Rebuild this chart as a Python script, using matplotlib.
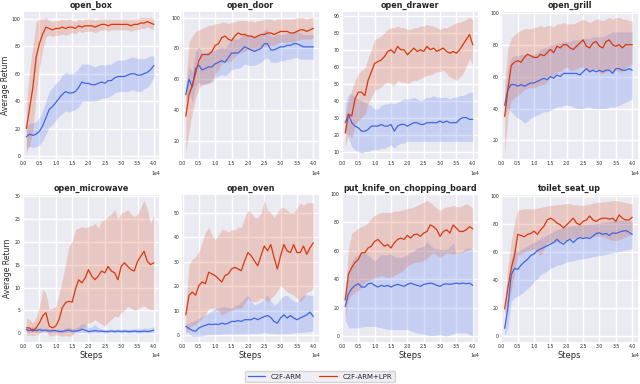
import numpy as np
import matplotlib
matplotlib.use("Agg")
import matplotlib.pyplot as plt
import seaborn as sns

sns.set_theme(style="darkgrid")
plt.rcParams['font.family'] = ['DejaVu Sans']

steps = [0.1, 0.2, 0.3, 0.4, 0.5, 0.6, 0.7, 0.8, 0.9, 1.0,
         1.1, 1.2, 1.3, 1.4, 1.5, 1.6, 1.7, 1.8, 1.9, 2.0,
         2.1, 2.2, 2.3, 2.4, 2.5, 2.6, 2.7, 2.8, 2.9, 3.0,
         3.1, 3.2, 3.3, 3.4, 3.5, 3.6, 3.7, 3.8, 3.9, 4.0]

tasks = ["open_box", "open_door", "open_drawer", "open_grill",
         "open_microwave", "open_oven", "put_knife_on_chopping_board", "toilet_seat_up"]
methods = ["C2F-ARM", "C2F-ARM+LPR"]

# ---- open_box ----
box_lpr_mean = [20,35,50,72,82,89,94,93,92,93, 93,94,93,94,94,93,95,94,95,95, 95,94,95,96,96,95,96,96,96,96, 96,96,95,96,96,97,97,98,97,96]
box_lpr_lo = [2,8,18,45,64,78,87,88,87,88, 88,89,88,89,90,89,91,90,91,91, 91,90,91,92,92,91,92,92,92,92, 92,92,91,92,92,93,93,94,93,92]
box_lpr_hi = [38,62,80,98,100,100,101,99,98,99, 99,100,99,100,99,98,100,99,100,100, 100,99,100,100,100,100,100,100,100,100, 100,100,100,100,100,101,101,101,101,100]
box_arm_mean = [14,16,15,16,18,22,28,34,36,39, 42,45,47,46,46,47,50,54,53,53, 52,52,53,54,53,55,55,57,58,58, 58,59,60,60,59,59,60,61,63,66]
box_arm_lo = [6,7,6,7,8,11,16,21,23,26, 29,31,33,32,33,34,36,40,40,40, 40,40,41,42,42,43,44,46,47,47, 47,47,48,48,47,47,49,50,53,58]
box_arm_hi = [22,24,24,25,28,33,40,47,50,53, 55,59,61,60,60,61,64,67,67,67, 66,65,66,67,66,67,67,69,70,70, 70,71,72,72,71,71,71,72,73,73]

# ---- open_door ----
door_lpr_mean = [36,50,56,64,72,76,76,76,78,82, 83,87,88,86,85,88,90,89,89,88, 88,87,88,89,89,90,90,89,90,91, 91,91,90,90,91,92,92,91,92,93]
door_lpr_lo = [12,27,38,48,54,57,57,57,59,64, 66,70,72,71,72,75,77,77,78,79, 79,79,80,81,81,82,82,82,83,84, 84,84,84,84,85,86,86,86,86,87]
door_lpr_hi = [58,84,88,91,92,93,94,95,95,96, 96,97,97,96,97,97,98,98,98,98, 98,97,98,98,99,99,99,98,99,99, 99,99,99,99,100,100,100,99,100,100]
door_arm_mean = [50,60,55,67,69,66,67,68,68,70, 71,72,71,74,77,77,77,79,81,80, 79,78,79,80,83,83,79,79,80,81, 81,82,82,83,83,82,81,81,81,81]
door_arm_lo = [46,52,45,55,58,56,57,58,58,61, 62,63,62,64,66,67,67,68,70,69, 69,69,70,71,73,74,71,71,71,72, 72,73,73,74,74,73,73,73,73,73]
door_arm_hi = [55,68,65,78,81,77,77,78,78,79, 80,81,80,83,86,86,86,88,90,89, 88,87,88,89,92,92,88,88,89,89, 89,90,90,91,91,90,89,89,89,89]

# ---- open_drawer ----
drawer_lpr_mean = [21,32,31,41,45,45,43,52,57,62, 63,64,66,69,70,68,72,70,70,67, 69,71,69,70,69,72,70,71,69,70, 71,69,68,69,68,70,73,76,79,73]
drawer_lpr_lo = [13,20,18,26,28,30,32,38,42,46, 47,48,50,51,50,49,52,51,51,50, 51,52,52,53,54,55,55,56,57,57, 58,56,54,53,52,54,56,60,65,61]
drawer_lpr_hi = [32,40,46,52,56,58,59,65,70,76, 77,78,80,82,83,83,84,83,83,82, 82,83,83,84,84,85,84,84,83,82, 83,83,84,85,86,86,87,88,89,88]
drawer_arm_mean = [27,32,27,25,24,22,22,23,25,25, 25,26,25,25,26,22,25,26,26,25, 26,27,27,26,26,27,27,27,27,28, 27,28,27,27,27,29,30,30,29,29]
drawer_arm_lo = [22,18,13,11,10,9,10,10,11,11, 11,12,12,13,14,12,14,15,15,16, 16,16,16,16,16,16,16,16,16,16, 16,16,16,16,16,16,16,16,16,16]
drawer_arm_hi = [38,44,44,42,41,40,39,38,37,35, 35,37,38,38,39,38,39,40,41,41, 41,42,41,40,41,42,42,43,42,42, 42,42,41,42,42,43,43,44,45,45]

# ---- open_grill ----
grill_lpr_mean = [35,52,67,69,70,69,72,74,73,72, 72,74,73,75,77,75,79,78,80,80, 78,77,79,81,83,79,78,81,82,79, 78,82,83,80,79,80,78,80,80,80]
grill_lpr_lo = [12,35,45,47,48,50,52,53,53,53, 54,55,55,57,61,60,63,63,65,66, 64,64,65,66,66,64,63,64,65,62, 62,63,64,63,64,63,63,66,67,68]
grill_lpr_hi = [55,78,84,86,88,89,90,90,90,91, 91,92,91,92,92,91,93,93,94,93, 93,93,94,95,96,95,94,95,96,96, 95,96,97,96,97,97,96,96,95,95]
grill_arm_mean = [42,52,55,55,54,55,54,55,56,56, 57,58,59,58,60,59,61,60,62,62, 62,62,62,61,63,65,63,64,63,64, 63,64,64,62,65,65,64,64,65,64]
grill_arm_lo = [36,40,38,36,34,33,31,32,34,35, 36,37,38,38,39,40,41,41,42,42, 42,41,40,40,40,41,41,40,40,40, 40,40,41,41,41,42,43,44,45,46]
grill_arm_hi = [48,64,72,73,73,74,74,74,74,74, 75,77,78,78,80,80,81,81,82,82, 82,83,83,83,84,84,84,85,85,85, 85,86,87,88,88,88,88,88,88,88]

# ---- open_microwave ----
micro_lpr_mean = [1.2,1.2,0.5,1.2,2.3,3.8,4.5,1.6,1.2,1.6, 3.0,5.6,6.7,7.0,6.8,9.6,11.7,11.0,12.1,13.9, 12.5,11.7,12.5,13.6,13.2,14.6,13.6,13.2,11.7,14.6, 15.4,14.6,13.9,13.6,15.7,16.8,17.9,15.7,15.0,15.4]
micro_lpr_lo = [-0.5,-0.3,-0.5,-0.3,0.0,0.5,0.5,-0.6,-0.5,-0.3, -0.5,-0.6,-0.5,-0.6,-0.5,0.5,0.6,0.9,1.5,2.3, 2.5,3.0,2.5,2.0,1.6,2.5,3.0,3.8,3.5,4.5, 5.0,5.9,5.5,5.0,5.2,5.8,6.0,5.5,5.2,5.2]
micro_lpr_hi = [3.4,3.0,2.3,3.5,5.9,9.6,8.8,5.2,5.5,5.9, 8.5,11.7,15.0,19.0,20.0,22.6,23.0,23.3,23.0,23.3, 23.5,24.0,23.0,24.5,24.8,25.5,26.0,27.0,25.0,26.2, 26.5,27.0,26.0,25.5,26.0,27.5,29.0,27.0,24.0,26.0]
micro_arm_mean = [0.8,0.6,0.9,0.6,0.8,0.6,0.7,0.5,0.6,0.6, 0.4,0.4,0.6,0.7,0.5,0.5,0.6,0.9,0.7,0.4, 0.5,0.6,0.5,0.5,0.4,0.4,0.5,0.4,0.5,0.4, 0.5,0.4,0.4,0.5,0.4,0.4,0.5,0.4,0.5,0.7]
micro_arm_lo = [0.2,0.1,0.3,0.1,0.2,0.1,0.2,0.0,0.1,0.1, 0.0,0.0,0.1,0.2,0.0,0.0,0.1,0.2,0.1,0.0, 0.0,0.1,0.0,0.1,0.0,0.0,0.1,0.0,0.1,0.0, 0.1,0.0,0.0,0.1,0.0,0.0,0.1,0.0,0.1,0.2]
micro_arm_hi = [1.5,1.2,1.6,1.2,1.4,1.1,1.2,1.0,1.1,1.1, 0.9,0.9,1.2,1.4,1.0,1.1,1.5,2.2,2.0,1.3, 1.4,1.9,1.2,1.0,0.8,0.9,1.0,0.8,1.0,0.9, 1.0,0.9,0.9,1.0,1.1,1.0,1.2,1.1,1.2,1.5]

# ---- open_oven ----
oven_lpr_mean = [8.3,16.3,17.6,16.3,20.3,21.7,21,25.7,25,24.3, 23,21.7,24.3,25,27,27.7,27,26.3,30.3,33.7, 32.4,30.3,28.3,32.4,36.4,34.4,37,31.7,27,32.4, 37,34.4,33.7,37,33.7,33.7,36.4,33,35.7,37.7]
oven_lpr_lo = [0.3,3,4,4.5,5.6,7,8.3,11,11,11, 10,8.3,9,9.6,10,11,11,11,13,15, 14,13.6,14,15,15,13.6,15,16.3,18,20.3, 19,17.6,17,16.3,15,13.6,15,17.6,18,19]
oven_lpr_hi = [12,29,31,32,34,38,42,44,41,39, 41,43,43,42,43,43,44,44,48,51, 50,48,48,50,55,51,50,48,50,52, 52,51,50,50,52,54,53,54,54,54]
oven_arm_mean = [3.6,2.7,1.9,1.6,2.9,3.6,4.0,4.5,4.3,4.5, 4.3,4.9,4.5,4.9,5.6,5.6,5.9,5.6,6.3,6.3, 6.3,7.0,6.3,7.0,7.6,8.0,7.2,5.6,4.9,7.0, 8.3,7.0,8.0,7.0,6.3,7.0,7.6,8.3,9.4,7.6]
oven_arm_lo = [1.6,0.5,-0.4,-0.4,-0.4,-0.3,0,0.2,0.2,0.3, 0.3,0.4,0.4,0.5,0.5,0.5,0.5,0.5,0.5,0.5, 0.6,0.6,0.7,0.8,1.0,0.8,0.7,0.6,0.5,0.5, 0.6,0.6,0.8,0.9,1.0,1.1,1.2,1.3,1.5,1.6]
oven_arm_hi = [4.5,5,5.5,6,7,7.5,8.3,9,10,11, 11,11.5,11.6,11.3,11,12,12.5,13.6,15,16.3, 14,12.3,13,13.6,15,16.3,14,12.3,13,15, 16,16.3,15,14,13.6,15,16.3,16.5,16.3,16.3]

# ---- put_knife_on_chopping_board ----
knife_lpr_mean = [25.5,43.8,48.4,51.8,54,58.7,58.7,62,63.3,66.7, 68,65.6,63.3,64.4,62,65.6,68,69,68,70.9, 69,71.3,71.8,70.2,72.5,73.6,78.2,77,74.8,70.2, 73.6,74.8,72.5,78.2,75.9,73.6,73.6,74.8,77,75.5]
knife_lpr_lo = [14,25.5,29,31,32.3,35,38,39,40,41.5, 42,42.7,42,41.5,41.5,43,44,45,47,49.5, 50.5,51.8,52,52.5,53,55,57,58.7,57,55.3, 57,58.7,58,57.6,58,58.7,59,60,61,62]
knife_lpr_hi = [28,62,72.5,74,76,77,78,80,83,85, 86,87,87,87,87,88,88,88.5,89,89.7, 90,90.8,92,93,94,95.4,94,92,90,88.5, 90,90.8,91,92,91,90.8,92,93,92,89.7]
knife_arm_mean = [20.9,30,33.5,35.8,36.9,34.6,34.6,36.9,37.4,35.8, 34.6,35.8,35.1,35.8,34.6,35.8,36.5,35.8,35.1,36.5, 37.4,36.5,35.8,35.1,36.5,36.9,37.4,36.9,35.8,35.1, 36.5,36.9,36.5,36.9,37.4,36.9,37.4,36.9,37.4,35.8]
knife_arm_lo = [11.7,6,6,6,6,6.5,7,7,7,7, 6.5,6,5.5,5,4.8,4.8,4.8,4.8,4.8,4.8, 4,3,2.5,2,1.4,1,0.7,0.7,1,1.4, 0.8,0.2,1,2,2.5,2.5,2.5,2.5,1.5,0.2]
knife_arm_hi = [28,44,53,56,57.6,58,58.7,57,55,53, 55,57.6,57,57.6,57.6,56,55.5,55.3,56,57.6, 59,60,62,62.5,63.3,66.7,64,62,61.5,61, 61,61,63,65.6,57.6,59,60,62,62,61]

# ---- toilet_seat_up ----
toilet_lpr_mean = [19.4,34.5,48.4,57.6,72.7,72,71,72.7,73.4,75, 72.7,76,78.5,83,84.3,83,80.8,79.6,77.3,79.6, 82,84.3,80.8,79.6,82,83,85.9,83,82,83.6, 84.3,84.3,83.6,84.3,82,86.6,84.3,83,83,85]
toilet_lpr_lo = [16,20.6,32,46,57.6,59,60,61,61.5,62.3, 60,57.6,62,67,67,67,67.5,68,68,69, 69.5,70,70,70.2,70.4,70.8,71,71.2,71.4,71.5, 71,70,69,68.5,68,69,70,71,72,72.7]
toilet_lpr_hi = [23,50.7,67,80.8,90,90.5,91,91,91,91, 91.5,92,92.5,93,93.5,93.5,94,94,94.5,94.7, 94.5,94,93.8,93.5,93.5,94,94.5,95,95.5,95.8, 96,96.2,96.5,96.8,97,96.5,96,95.5,95,94.7]
toilet_arm_mean = [5.6,20.6,43.8,48.4,47.7,50.7,53,54.9,57.6,58.8, 61.1,62.3,63.4,64.6,65.7,66.9,69.2,66.9,65.7,68, 69.2,66.9,69.2,70.4,69.7,70.4,69.7,71.5,73.4,73.8, 72.7,73.4,72,73.8,73.4,74.3,75,75.5,74.3,72.7]
toilet_arm_lo = [0,6.7,25,27.5,28.7,30,32,34,36,39, 41,43.8,45,46.5,48.4,49.5,50.5,51,52,53, 53.5,54,54.5,55,55.3,55.8,56.3,56.8,57.2,57.6, 58,58.5,59,59.5,60,60.5,61,61.5,62,62.3]
toilet_arm_hi = [11.3,32,55,62,60,62,63.4,64.5,66,67, 68.5,70,71,72.5,73.8,75,76,77,77.8,78.5, 78.7,79,79.2,79.4,79.6,79.8,80,80.2,80.5,80.8, 81.2,81.6,82,82.5,83,82.8,82.6,82.4,82.2,82]

yticks = {
    "open_box": [0, 20, 40, 60, 80, 100],
    "open_door": [20, 40, 60, 80, 100],
    "open_drawer": [10, 20, 30, 40, 50, 60, 70, 80, 90],
    "open_grill": [20, 40, 60, 80, 100],
    "open_microwave": [0, 5, 10, 15, 20, 25, 30],
    "open_oven": [0, 10, 20, 30, 40, 50],
    "put_knife_on_chopping_board": [0, 20, 40, 60, 80, 100],
    "toilet_seat_up": [0, 20, 40, 60, 80, 100],
}

data = {
    "open_box": [(box_arm_mean, box_arm_lo, box_arm_hi), (box_lpr_mean, box_lpr_lo, box_lpr_hi)],
    "open_door": [(door_arm_mean, door_arm_lo, door_arm_hi), (door_lpr_mean, door_lpr_lo, door_lpr_hi)],
    "open_drawer": [(drawer_arm_mean, drawer_arm_lo, drawer_arm_hi), (drawer_lpr_mean, drawer_lpr_lo, drawer_lpr_hi)],
    "open_grill": [(grill_arm_mean, grill_arm_lo, grill_arm_hi), (grill_lpr_mean, grill_lpr_lo, grill_lpr_hi)],
    "open_microwave": [(micro_arm_mean, micro_arm_lo, micro_arm_hi), (micro_lpr_mean, micro_lpr_lo, micro_lpr_hi)],
    "open_oven": [(oven_arm_mean, oven_arm_lo, oven_arm_hi), (oven_lpr_mean, oven_lpr_lo, oven_lpr_hi)],
    "put_knife_on_chopping_board": [(knife_arm_mean, knife_arm_lo, knife_arm_hi), (knife_lpr_mean, knife_lpr_lo, knife_lpr_hi)],
    "toilet_seat_up": [(toilet_arm_mean, toilet_arm_lo, toilet_arm_hi), (toilet_lpr_mean, toilet_lpr_lo, toilet_lpr_hi)],
}

colors = ["#3f66e0", "#d8380c"]
fill_colors = ["#5b82f0", "#e0603a"]

x = np.array(steps) * 1e4

fig, axes = plt.subplots(2, 4, figsize=(6.4, 3.84), dpi=100)
fig.subplots_adjust(left=0.034, right=0.998, top=0.972, bottom=0.107, wspace=0.15, hspace=0.225)

handles = []
for i, (ax, task) in enumerate(zip(axes.flat, tasks)):
    for j, (m, lo, hi) in enumerate(data[task]):
        ax.fill_between(x, lo, hi, color=fill_colors[j], alpha=0.25, linewidth=0)
        ln, = ax.plot(x, m, color=colors[j], linewidth=0.9, label=methods[j])
        if i == 0:
            handles.append(ln)
    ax.set_title(task, fontsize=5.8, fontweight="bold", pad=1.8)
    ax.set_xlim(-0.04e4, 4.2e4)
    ax.set_xticks(np.arange(0, 4.01e4, 0.5e4))
    ax.set_yticks(yticks[task])
    ax.ticklabel_format(axis="x", style="sci", scilimits=(0, 0))
    ax.xaxis.get_offset_text().set_fontsize(3.3)
    ax.tick_params(axis="both", labelsize=3.3, pad=1, length=0)
    if i % 4 == 0:
        ax.set_ylabel("Average Return", fontsize=5.5, labelpad=1.5)
    if i >= 4:
        ax.set_xlabel("Steps", fontsize=6, labelpad=1)

fig.legend(handles, methods, loc="lower center", ncol=2, fontsize=5,
           bbox_to_anchor=(0.5, -0.005), frameon=True, handlelength=2.5,
           columnspacing=2.5)

fig.savefig("out.png", dpi=100)
